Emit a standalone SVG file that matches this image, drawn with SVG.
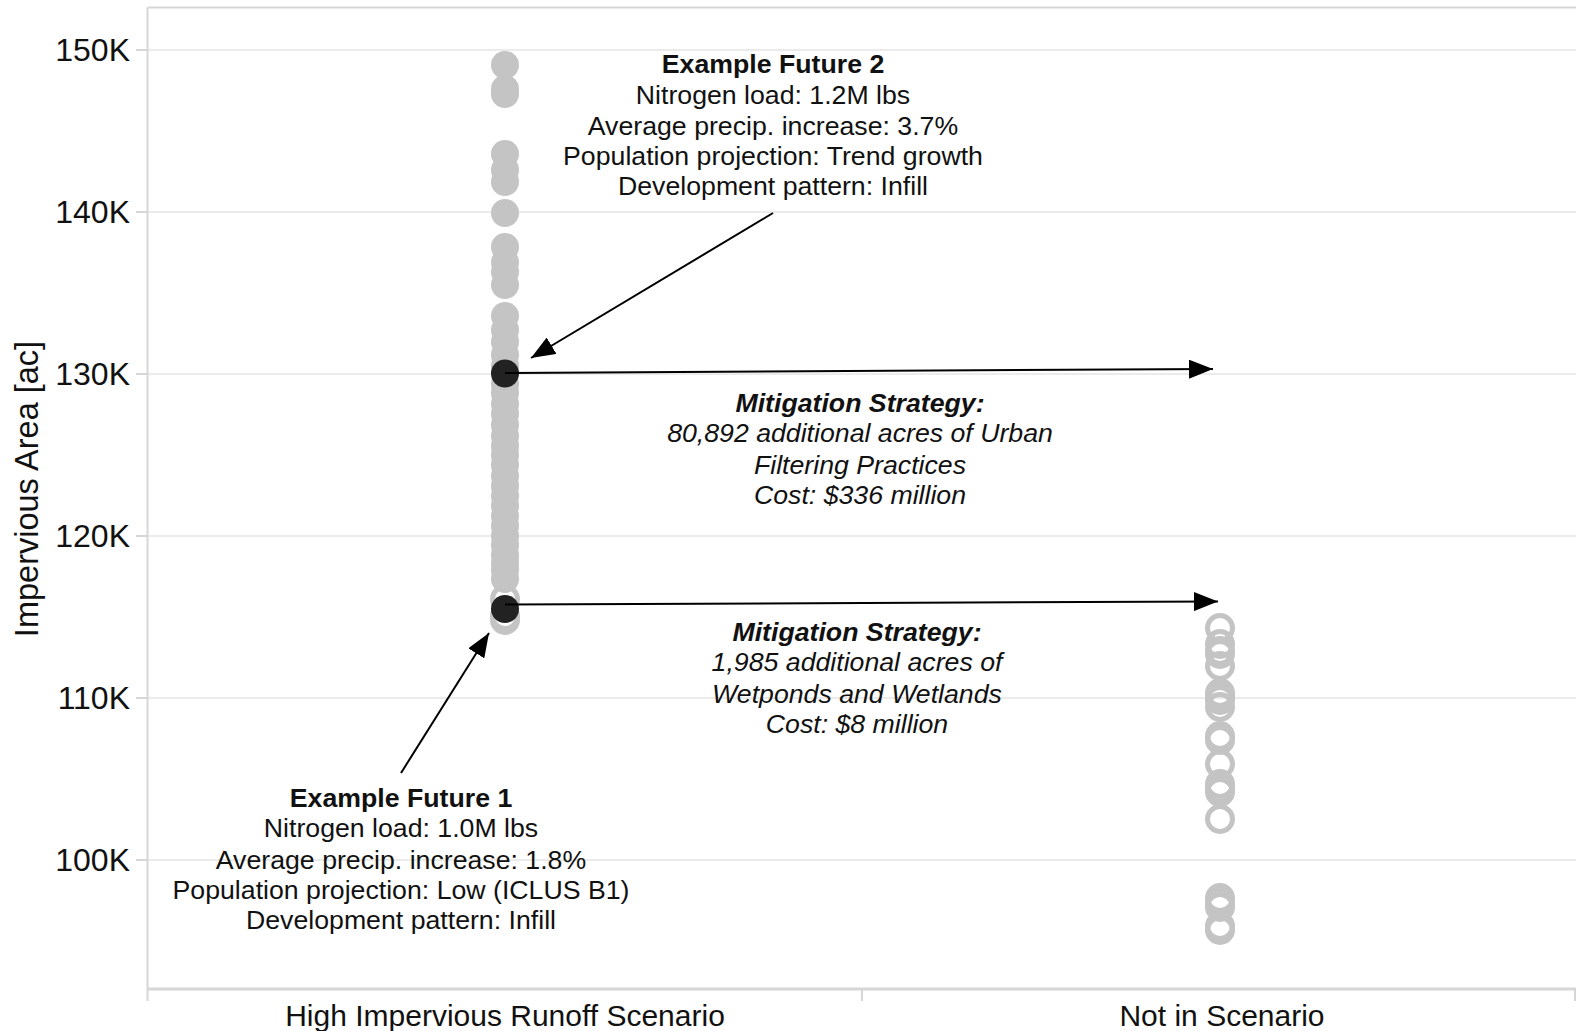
<svg xmlns="http://www.w3.org/2000/svg" width="1576" height="1031" viewBox="0 0 1576 1031">
<style>
  text { font-family: "Liberation Sans", Arial, sans-serif; fill: #111; }
  .tick { font-size: 32px; text-anchor: end; }
  .cat { font-size: 30px; text-anchor: middle; }
  .ann { font-size: 26.7px; text-anchor: middle; }
  .hdr { font-weight: bold; }
  .it { font-style: italic; }
  .grid { stroke: #ebebeb; stroke-width: 2; }
  .axis { stroke: #d6d6d6; stroke-width: 2; fill: none; }
  .tk { stroke: #d6d6d6; stroke-width: 2; }
  .pt { fill: #c4c4c4; }
  .ring { fill: none; stroke: #c4c4c4; stroke-width: 5; }
  .sel { fill: #222; }
  .conn { stroke: #000; stroke-width: 2; fill: none; marker-end: url(#ah); }
</style>
<defs>
  <marker id="ah" markerUnits="userSpaceOnUse" markerWidth="24" markerHeight="19" refX="24" refY="9.5" orient="auto">
    <path d="M0,0 L24,9.5 L0,19 Z" fill="#000"/>
  </marker>
</defs>
<rect width="1576" height="1031" fill="#fff"/>

<g id="gridlines">
  <line class="grid" x1="148" y1="50" x2="1576" y2="50"/>
  <line class="grid" x1="148" y1="212" x2="1576" y2="212"/>
  <line class="grid" x1="148" y1="374" x2="1576" y2="374"/>
  <line class="grid" x1="148" y1="536" x2="1576" y2="536"/>
  <line class="grid" x1="148" y1="698" x2="1576" y2="698"/>
  <line class="grid" x1="148" y1="860" x2="1576" y2="860"/>
</g>

<g id="axes">
  <line class="axis" x1="147.5" y1="7.5" x2="1576" y2="7.5"/>
  <line class="axis" x1="147.5" y1="7.5" x2="147.5" y2="989"/>
  <line class="axis" x1="147.5" y1="989" x2="1576" y2="989" style="stroke-width:3"/>
  <line class="tk" x1="136" y1="50" x2="148" y2="50"/>
  <line class="tk" x1="136" y1="212" x2="148" y2="212"/>
  <line class="tk" x1="136" y1="374" x2="148" y2="374"/>
  <line class="tk" x1="136" y1="536" x2="148" y2="536"/>
  <line class="tk" x1="136" y1="698" x2="148" y2="698"/>
  <line class="tk" x1="136" y1="860" x2="148" y2="860"/>
  <line class="tk" x1="147.5" y1="989" x2="147.5" y2="1001"/>
  <line class="tk" x1="862" y1="989" x2="862" y2="1001"/>
  <line class="tk" x1="1575" y1="989" x2="1575" y2="1001"/>
  <text class="tick" x="130" y="61">150K</text>
  <text class="tick" x="130" y="223">140K</text>
  <text class="tick" x="130" y="385">130K</text>
  <text class="tick" x="130" y="547">120K</text>
  <text class="tick" x="130" y="709">110K</text>
  <text class="tick" x="130" y="871">100K</text>
  <text class="cat" x="505" y="1026">High Impervious Runoff Scenario</text>
  <text class="cat" x="1222" y="1026">Not in Scenario</text>
  <text transform="translate(38,489) rotate(-90)" style="font-size:32.5px;text-anchor:middle">Impervious Area [ac]</text>
</g>

<g id="scenario-points">
  <circle class="ring" cx="505" cy="599" r="12.5"/>
  <circle class="ring" cx="505" cy="616" r="12.5"/>
  <circle class="ring" cx="505" cy="620" r="12.5"/>
  <circle class="pt" cx="505" cy="65" r="14"/>
  <circle class="pt" cx="505" cy="89" r="14"/>
  <circle class="pt" cx="505" cy="94" r="14"/>
  <circle class="pt" cx="505" cy="154" r="14"/>
  <circle class="pt" cx="505" cy="170" r="14"/>
  <circle class="pt" cx="505" cy="182" r="14"/>
  <circle class="pt" cx="505" cy="213" r="14"/>
  <circle class="pt" cx="505" cy="247" r="14"/>
  <circle class="pt" cx="505" cy="262" r="14"/>
  <circle class="pt" cx="505" cy="272" r="14"/>
  <circle class="pt" cx="505" cy="285" r="14"/>
  <circle class="pt" cx="505" cy="316" r="14"/>
  <circle class="pt" cx="505" cy="330" r="14"/>
  <circle class="pt" cx="505" cy="342" r="14"/>
  <circle class="pt" cx="505" cy="355" r="14"/>
  <circle class="pt" cx="505" cy="366" r="14"/>
  <circle class="pt" cx="505" cy="384" r="14"/>
  <circle class="pt" cx="505" cy="393" r="14"/>
  <circle class="pt" cx="505" cy="404" r="14"/>
  <circle class="pt" cx="505" cy="414" r="14"/>
  <circle class="pt" cx="505" cy="425" r="14"/>
  <circle class="pt" cx="505" cy="436" r="14"/>
  <circle class="pt" cx="505" cy="446" r="14"/>
  <circle class="pt" cx="505" cy="455" r="14"/>
  <circle class="pt" cx="505" cy="465" r="14"/>
  <circle class="pt" cx="505" cy="476" r="14"/>
  <circle class="pt" cx="505" cy="486" r="14"/>
  <circle class="pt" cx="505" cy="496" r="14"/>
  <circle class="pt" cx="505" cy="506" r="14"/>
  <circle class="pt" cx="505" cy="516" r="14"/>
  <circle class="pt" cx="505" cy="526" r="14"/>
  <circle class="pt" cx="505" cy="536" r="14"/>
  <circle class="pt" cx="505" cy="545" r="14"/>
  <circle class="pt" cx="505" cy="555" r="14"/>
  <circle class="pt" cx="505" cy="563" r="14"/>
  <circle class="pt" cx="505" cy="570" r="14"/>
  <circle class="pt" cx="505" cy="579" r="14"/>
  <circle class="sel" cx="505" cy="373.5" r="14"/>
  <circle class="sel" cx="505" cy="609" r="14"/>
</g>

<g id="other-points">
  <circle class="ring" cx="1220" cy="628" r="12.5"/>
  <circle class="ring" cx="1220" cy="644" r="12.5"/>
  <circle class="ring" cx="1220" cy="651" r="12.5"/>
  <circle class="ring" cx="1220" cy="654" r="12.5"/>
  <circle class="ring" cx="1220" cy="666" r="12.5"/>
  <circle class="ring" cx="1220" cy="693" r="12.5"/>
  <circle class="ring" cx="1220" cy="697" r="12.5"/>
  <circle class="ring" cx="1220" cy="700" r="12.5"/>
  <circle class="ring" cx="1220" cy="707" r="12.5"/>
  <circle class="ring" cx="1220" cy="736" r="12.5"/>
  <circle class="ring" cx="1220" cy="740" r="12.5"/>
  <circle class="ring" cx="1220" cy="764" r="12.5"/>
  <circle class="ring" cx="1220" cy="784" r="12.5"/>
  <circle class="ring" cx="1220" cy="789" r="12.5"/>
  <circle class="ring" cx="1220" cy="792" r="12.5"/>
  <circle class="ring" cx="1220" cy="819" r="12.5"/>
  <circle class="ring" cx="1220" cy="898" r="12.5"/>
  <circle class="ring" cx="1220" cy="902" r="12.5"/>
  <circle class="ring" cx="1220" cy="907" r="12.5"/>
  <circle class="ring" cx="1220" cy="926" r="12.5"/>
  <circle class="ring" cx="1220" cy="930" r="12.5"/>
</g>

<g id="connectors">
  <line class="conn" x1="773" y1="213" x2="531" y2="358"/>
  <line class="conn" x1="401" y1="773" x2="489" y2="633"/>
  <line class="conn" x1="505" y1="373" x2="1213" y2="369"/>
  <line class="conn" x1="505" y1="604.5" x2="1218" y2="601.5"/>
</g>

<g id="example-future-2">
  <text class="ann hdr" x="773" y="73">Example Future 2</text>
  <text class="ann" x="773" y="103.5">Nitrogen load: 1.2M lbs</text>
  <text class="ann" x="773" y="135">Average precip. increase: 3.7%</text>
  <text class="ann" x="773" y="165">Population projection: Trend growth</text>
  <text class="ann" x="773" y="195">Development pattern: Infill</text>
</g>

<g id="example-future-1">
  <text class="ann hdr" x="401" y="806.5">Example Future 1</text>
  <text class="ann" x="401" y="837">Nitrogen load: 1.0M lbs</text>
  <text class="ann" x="401" y="869">Average precip. increase: 1.8%</text>
  <text class="ann" x="401" y="899">Population projection: Low (ICLUS B1)</text>
  <text class="ann" x="401" y="929">Development pattern: Infill</text>
</g>

<g id="mitigation-1">
  <text class="ann hdr it" x="860" y="411.5">Mitigation Strategy:</text>
  <text class="ann it" x="860" y="442">80,892 additional acres of Urban</text>
  <text class="ann it" x="860" y="474">Filtering Practices</text>
  <text class="ann it" x="860" y="504">Cost: $336 million</text>
</g>

<g id="mitigation-2">
  <text class="ann hdr it" x="857" y="641">Mitigation Strategy:</text>
  <text class="ann it" x="857" y="671">1,985 additional acres of</text>
  <text class="ann it" x="857" y="703">Wetponds and Wetlands</text>
  <text class="ann it" x="857" y="733">Cost: $8 million</text>
</g>
</svg>
